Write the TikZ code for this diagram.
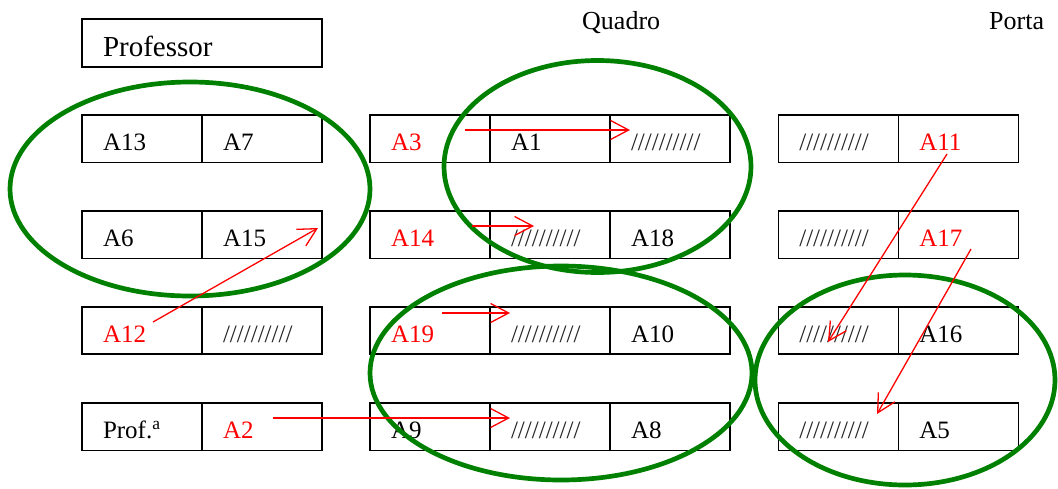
\documentclass[tikz,border=0pt]{standalone}
\usepackage{fontspec}
\setmainfont{Liberation Serif}
\usetikzlibrary{arrows.meta}
\definecolor{ringgreen}{RGB}{0,128,0}
\definecolor{hatchgray}{RGB}{35,35,35}
\newcommand{\blankseat}{//////////}
\tikzset{
	seat/.style={draw, line width=1.6pt, minimum width=120pt, minimum height=47.5pt,
		inner xsep=21pt, inner ysep=0pt, text width=78pt, align=left,
		text height=24pt, text depth=1pt, font=\fontsize{25}{30}\selectfont},
	moved/.style={seat, text=red},
	blankcell/.style={seat, text=hatchgray},
	ring/.style={ringgreen, line width=4.7pt},
	seatmove/.style={red, line width=1.3pt, -{Straight Barb[length=18pt, width=19pt]}},
	heading/.style={anchor=base west, inner sep=0pt, font=\fontsize{26}{30}\selectfont}
}
\begin{document}
\begin{tikzpicture}[x=1pt, y=-1pt]
		\useasboundingbox (0,0) rectangle (1058,488);
		%labels
		\node[heading] (quadro) at (582,29) {Quadro};
		\node[heading] (porta) at (989,29) {Porta};
		%professor
		\node[seat, minimum width=240pt, minimum height=48pt, text width=198pt,
			text height=27pt, font=\fontsize{29}{34}\selectfont] (prof) at (202,43) {Professor};
		%left block
		\node[seat] (l1a) at (142,138.8) {A13};
		\node[seat] (l1b) at (262,138.8) {A7};
		\node[seat] (l2a) at (142,234.7) {A6};
		\node[seat] (l2b) at (262,234.7) {A15};
		\node[moved] (l3a) at (142,330.5) {A12};
		\node[blankcell] (l3b) at (262,330.5) {\blankseat};
		\node[seat] (l4a) at (142,426.7) {Prof.\textsuperscript{a}};
		\node[moved] (l4b) at (262,426.7) {A2};
		%middle block
		\node[moved] (m1a) at (430,138.8) {A3};
		\node[seat] (m1b) at (550,138.8) {A1};
		\node[blankcell] (m1c) at (670,138.8) {\blankseat};
		\node[moved] (m2a) at (430,234.7) {A14};
		\node[blankcell] (m2b) at (550,234.7) {\blankseat};
		\node[seat] (m2c) at (670,234.7) {A18};
		\node[moved] (m3a) at (430,330.5) {A19};
		\node[blankcell] (m3b) at (550,330.5) {\blankseat};
		\node[seat] (m3c) at (670,330.5) {A10};
		\node[seat] (m4a) at (430,426.7) {A9};
		\node[blankcell] (m4b) at (550,426.7) {\blankseat};
		\node[seat] (m4c) at (670,426.7) {A8};
		%right block
		\node[blankcell] (r1a) at (838.3,138.8) {\blankseat};
		\node[moved] (r1b) at (958.3,138.8) {A11};
		\node[blankcell] (r2a) at (838.3,234.7) {\blankseat};
		\node[moved] (r2b) at (958.3,234.7) {A17};
		\node[blankcell] (r3a) at (838.3,330.5) {\blankseat};
		\node[seat] (r3b) at (958.3,330.5) {A16};
		\node[blankcell] (r4a) at (838.3,426.7) {\blankseat};
		\node[seat] (r4b) at (958.3,426.7) {A5};
		%groups
		\draw[ring] (190,189) ellipse [x radius=180, y radius=107];
		\draw[ring] (597.5,166.5) ellipse [x radius=153.5, y radius=106];
		\draw[ring] (561,373) ellipse [x radius=191, y radius=107];
		\draw[ring] (905,380) ellipse [x radius=150, y radius=105];
		%moves
		\coordinate (a12from) at (153,322);
		\coordinate (a12to) at (318,228);
		\coordinate (a3from) at (465,130);
		\coordinate (a3to) at (630,130);
		\coordinate (a14from) at (472,226);
		\coordinate (a14to) at (534,226);
		\coordinate (a19from) at (442,313);
		\coordinate (a19to) at (510,313);
		\coordinate (a2from) at (273,418);
		\coordinate (a2to) at (510,418);
		\coordinate (a11from) at (947,154);
		\coordinate (a11to) at (828,342);
		\coordinate (a17from) at (971,249);
		\coordinate (a17to) at (877,414);
		\draw[seatmove] (a12from) -- (a12to);
		\draw[seatmove] (a3from) -- (a3to);
		\draw[seatmove] (a14from) -- (a14to);
		\draw[seatmove] (a19from) -- (a19to);
		\draw[seatmove] (a2from) -- (a2to);
		\draw[seatmove] (a11from) -- (a11to);
		\draw[seatmove] (a17from) -- (a17to);
	\end{tikzpicture}
\end{document}
